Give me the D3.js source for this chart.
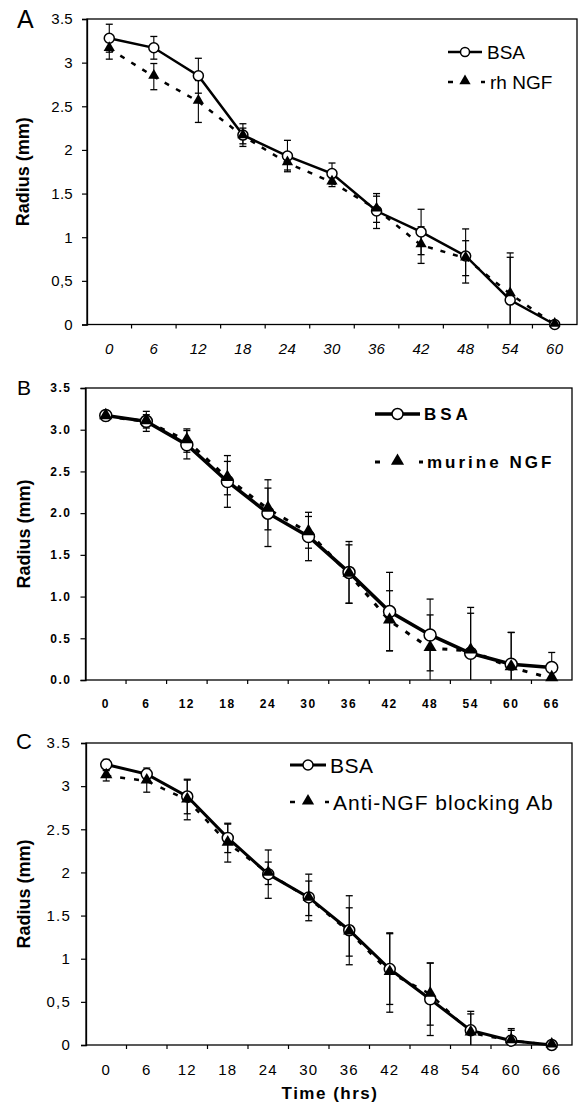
<!DOCTYPE html>
<html><head><meta charset="utf-8">
<script src="https://cdn.jsdelivr.net/npm/d3@7"></script>
<style>body{margin:0;background:#fff}svg{display:block}</style>
</head><body>
<svg id="c" width="579" height="1108"></svg>
<script>
// ---------- DATA ----------
const timesA = ["0","6","12","18","24","30","36","42","48","54","60"];
const bsaA    = [3.28, 3.17, 2.85, 2.17, 1.93, 1.73, 1.30, 1.06, 0.785, 0.28, 0.0];
const bsaErrA = [0.16, 0.13, 0.20, 0.13, 0.18, 0.12, 0.20, 0.26, 0.31, 0.54, 0.0];
const ngfA    = [3.16, 2.84, 2.555, 2.16, 1.85, 1.63, 1.32, 0.91, 0.76, 0.35, 0.0];
const ngfErrA = [0.12, 0.15, 0.24, 0.09, 0.08, 0.05, 0.15, 0.21, 0.20, 0.42, 0.0];
const yTicksA = ["0","0,5","1","1.5","2","2.5","3","3.5"];

const timesB = ["0","6","12","18","24","30","36","42","48","54","60","66"];
const bsaB    = [3.17, 3.10, 2.82, 2.38, 2.00, 1.72, 1.29, 0.82, 0.54, 0.32, 0.19, 0.15];
const bsaErrB = [0.05, 0.12, 0.17, 0.31, 0.40, 0.29, 0.37, 0.47, 0.43, 0.55, 0.38, 0.18];
const ngfB    = [3.16, 3.10, 2.87, 2.42, 2.05, 1.77, 1.27, 0.71, 0.38, 0.35, 0.15, 0.02];
const ngfErrB = [0.05, 0.08, 0.14, 0.20, 0.25, 0.19, 0.35, 0.36, 0.40, 0.45, 0.42, 0.0];
const yTicksB = ["0.0","0.5","1.0","1.5","2.0","2.5","3.0","3.5"];

const timesC = ["0","6","12","18","24","30","36","42","48","54","60","66"];
const bsaC    = [3.25, 3.14, 2.88, 2.40, 1.98, 1.71, 1.33, 0.88, 0.53, 0.17, 0.05, 0.0];
const bsaErrC = [0.06, 0.07, 0.20, 0.17, 0.28, 0.27, 0.40, 0.41, 0.42, 0.22, 0.14, 0.0];
const ngfC    = [3.12, 3.06, 2.84, 2.34, 1.99, 1.70, 1.31, 0.84, 0.59, 0.14, 0.05, 0.0];
const ngfErrC = [0.06, 0.13, 0.23, 0.22, 0.13, 0.20, 0.28, 0.46, 0.36, 0.22, 0.12, 0.0];
const yTicksC = ["0","0,5","1","1.5","2","2.5","3","3.5"];

const yTickValues = [0, 0.5, 1, 1.5, 2, 2.5, 3, 3.5];
const bsaName = "BSA";
const ngfNameA = "rh NGF";
const ngfNameB = "murine NGF";
const ngfNameC = "Anti-NGF blocking Ab";
const yTitle = "Radius (mm)";
const xTitle = "Time (hrs)";

// ---------- DRAW ----------
const svg = d3.select("#c");
const FONT = "'Liberation Sans', Arial, sans-serif";

function drawPanel(cfg, times, bsa, bsaErr, ngf, ngfErr, yLabels, ngfName) {
  const g = svg.append("g");
  const x = d3.scaleBand().domain(times).range([cfg.left, cfg.right]).padding(0);
  const y = d3.scaleLinear().domain([0, 3.5]).range([cfg.bottom, cfg.top]);
  const cx = t => x(t) + x.bandwidth() / 2;

  // frame
  g.append("rect").attr("x", cfg.left).attr("y", cfg.top)
    .attr("width", cfg.right - cfg.left).attr("height", cfg.bottom - cfg.top)
    .attr("fill", "none").attr("stroke", "#000").attr("stroke-width", 1.3);

  // y axis
  const ya = g.append("g").attr("transform", `translate(${cfg.left},0)`)
    .call(d3.axisLeft(y).tickValues(yTickValues).tickSize(5).tickPadding(cfg.yPad)
      .tickFormat((d, i) => yLabels[i]));
  ya.select(".domain").attr("stroke-width", 1.3);
  ya.selectAll("line").attr("stroke-width", 1.2);
  ya.selectAll("text").attr("font-family", FONT).attr("font-size", cfg.tickFont)
    .attr("font-weight", cfg.tickWeight).style("letter-spacing", cfg.tickSpacing + "px")
    .attr("fill", "#000");

  // x axis labels
  const xa = g.append("g").attr("transform", `translate(0,${cfg.bottom})`)
    .call(d3.axisBottom(x).tickSize(0).tickPadding(0));
  xa.select(".domain").remove();
  xa.selectAll("text").attr("y", cfg.xLabOff).attr("dy", "0.35em")
    .attr("font-family", FONT).attr("font-size", cfg.tickFont)
    .attr("font-weight", cfg.tickWeight).attr("font-style", cfg.xItalic ? "italic" : "normal")
    .style("letter-spacing", cfg.tickSpacing + "px").attr("fill", "#000");
  // boundary ticks
  g.selectAll(".bt").data(times.slice(1)).enter().append("line")
    .attr("x1", d => x(d)).attr("x2", d => x(d))
    .attr("y1", cfg.bottom).attr("y2", cfg.bottom + 4)
    .attr("stroke", "#000").attr("stroke-width", 1.2);

  // lines
  const lineGen = arr => d3.line().x((d, i) => cx(times[i])).y(d => y(d))(arr);
  g.append("path").attr("d", lineGen(ngf)).attr("fill", "none").attr("stroke", "#000")
    .attr("stroke-width", cfg.dashW).attr("stroke-dasharray", cfg.dash);
  g.append("path").attr("d", lineGen(bsa)).attr("fill", "none").attr("stroke", "#000")
    .attr("stroke-width", cfg.lineW);

  // error bars
  function errBars(vals, errs) {
    vals.forEach((v, i) => {
      const e = errs[i];
      if (e <= 0) return;
      const px = cx(times[i]);
      const hi = y(v + e), lo = y(Math.max(0, v - e));
      g.append("line").attr("x1", px).attr("x2", px).attr("y1", hi).attr("y2", lo)
        .attr("stroke", "#000").attr("stroke-width", 1.1);
      g.append("line").attr("x1", px - 3.5).attr("x2", px + 3.5).attr("y1", hi).attr("y2", hi)
        .attr("stroke", "#000").attr("stroke-width", 1.3);
      if (v - e > 0)
        g.append("line").attr("x1", px - 3.5).attr("x2", px + 3.5).attr("y1", lo).attr("y2", lo)
          .attr("stroke", "#000").attr("stroke-width", 1.3);
    });
  }
  errBars(bsa, bsaErr);
  errBars(ngf, ngfErr);

  // markers
  const tri = d3.symbol().type(d3.symbolTriangle).size(cfg.triSize);
  g.selectAll(".c").data(bsa).enter().append("circle")
    .attr("cx", (d, i) => cx(times[i])).attr("cy", d => y(d)).attr("r", cfg.r)
    .attr("fill", "#fff").attr("stroke", "#000").attr("stroke-width", 1.5);
  g.selectAll(".t").data(ngf).enter().append("path")
    .attr("d", tri).attr("transform", (d, i) => `translate(${cx(times[i])},${y(d) - 1})`)
    .attr("fill", "#000");

  // y title
  g.append("text").attr("transform", `translate(${cfg.yTitleX},${(cfg.top + cfg.bottom) / 2}) rotate(-90)`)
    .attr("text-anchor", "middle").attr("font-family", FONT).attr("font-size", 18)
    .attr("font-weight", "bold").attr("dy", "0.35em").text(yTitle);

  // panel letter
  g.append("text").attr("x", cfg.letterX).attr("y", cfg.letterY).attr("font-family", FONT)
    .attr("font-size", cfg.letterSize).text(cfg.letter);

  // legend
  const L = cfg.leg;
  g.append("line").attr("x1", L.x0).attr("x2", L.x1).attr("y1", L.y1).attr("y2", L.y1)
    .attr("stroke", "#000").attr("stroke-width", cfg.lineW);
  g.append("circle").attr("cx", (L.x0 + L.x1) / 2).attr("cy", L.y1).attr("r", cfg.r - 0.5)
    .attr("fill", "#fff").attr("stroke", "#000").attr("stroke-width", 1.5);
  g.append("text").attr("x", L.tx).attr("y", L.y1).attr("dy", "0.36em")
    .attr("font-family", FONT).attr("font-size", L.font).attr("font-weight", L.weight)
    .style("letter-spacing", L.sp1 + "px").text(bsaName);
  g.append("line").attr("x1", L.x0).attr("x2", L.x1 + 4).attr("y1", L.y2).attr("y2", L.y2)
    .attr("stroke", "#000").attr("stroke-width", cfg.dashW)
    .attr("stroke-dasharray", `5,${L.x1 - L.x0 - 6},4`);
  g.append("path").attr("d", tri).attr("transform", `translate(${(L.x0 + L.x1) / 2},${L.y2 - 1})`)
    .attr("fill", "#000");
  g.append("text").attr("x", L.tx + 3).attr("y", L.y2).attr("dy", "0.36em")
    .attr("font-family", FONT).attr("font-size", L.font).attr("font-weight", L.weight)
    .style("letter-spacing", L.sp2 + "px").text(ngfName);
}

drawPanel({left: 87, right: 577, top: 19, bottom: 324.5, yPad: 9, tickFont: 15, tickWeight: "normal",
  tickSpacing: 0.3, xItalic: true, xLabOff: 24, lineW: 2.5, dashW: 2.5, dash: "5,8", r: 5, triSize: 55,
  yTitleX: 23, letter: "A", letterX: 17, letterY: 28, letterSize: 25,
  leg: {x0: 448, x1: 482, y1: 52, y2: 82, tx: 487, font: 19, weight: "normal", sp1: 0, sp2: 0}},
  timesA, bsaA, bsaErrA, ngfA, ngfErrA, yTicksA, ngfNameA);

drawPanel({left: 85.5, right: 572, top: 388, bottom: 680, yPad: 9, tickFont: 12, tickWeight: "bold",
  tickSpacing: 1.5, xItalic: false, xLabOff: 23.5, lineW: 3.5, dashW: 3, dash: "5,9", r: 6, triSize: 75,
  yTitleX: 24, letter: "B", letterX: 17, letterY: 395, letterSize: 21,
  leg: {x0: 375, x1: 420, y1: 414, y2: 462, tx: 424, font: 17, weight: "bold", sp1: 4, sp2: 3}},
  timesB, bsaB, bsaErrB, ngfB, ngfErrB, yTicksB, ngfNameB);

drawPanel({left: 86, right: 572, top: 743, bottom: 1045, yPad: 10, tickFont: 15, tickWeight: "normal",
  tickSpacing: 1.2, xItalic: false, xLabOff: 25, lineW: 3, dashW: 2.5, dash: "5,9", r: 5.5, triSize: 65,
  yTitleX: 24, letter: "C", letterX: 16, letterY: 749, letterSize: 22,
  leg: {x0: 290, x1: 326, y1: 765, y2: 802, tx: 330, font: 21, weight: "normal", sp1: 0.5, sp2: 1}},
  timesC, bsaC, bsaErrC, ngfC, ngfErrC, yTicksC, ngfNameC);

svg.append("text").attr("x", 330).attr("y", 1093).attr("dy", "0.36em").attr("text-anchor", "middle")
  .attr("font-family", FONT).attr("font-size", 17).attr("font-weight", "bold")
  .style("letter-spacing", "1.5px").text(xTitle);
</script>
</body></html>
